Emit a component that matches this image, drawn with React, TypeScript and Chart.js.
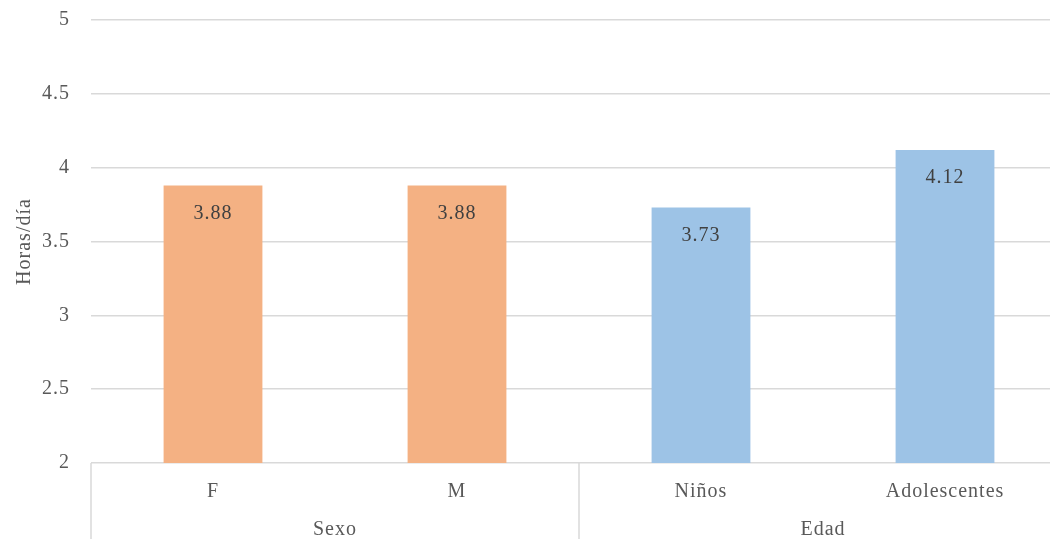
import { useEffect, useRef } from "react";
import { Chart, registerables } from "chart.js";

Chart.register(...registerables);

// Horas por día, agrupadas por sexo y por edad
const categories = ["F", "M", "Niños", "Adolescentes"];
const groups = ["Sexo", "Edad"];
const groupSizes = [2, 2];
const hours = [3.88, 3.88, 3.73, 4.12];
const barColors = ["#F4B183", "#F4B183", "#9DC3E6", "#9DC3E6"];
const yTicks = [2, 2.5, 3, 3.5, 4, 4.5, 5];

const FONT = "'Liberation Serif', 'Times New Roman', serif";
const TEXT = "#595959";
const LINE = "#d9d9d9";

// Slightly open letter spacing for every text drawn on the canvas
const letterSpacing = {
  id: "letterSpacing",
  beforeDraw(chart: any) {
    (chart.ctx as any).letterSpacing = "1px";
  },
};

// Value labels inside the top of each bar
const valueLabels = {
  id: "valueLabels",
  afterDatasetsDraw(chart: any) {
    const { ctx } = chart;
    const meta = chart.getDatasetMeta(0);
    ctx.save();
    ctx.font = `20px ${FONT}`;
    ctx.fillStyle = "#404040";
    ctx.textAlign = "center";
    ctx.textBaseline = "middle";
    meta.data.forEach((bar: any, i: number) => {
      ctx.fillText(hours[i].toFixed(2), bar.x, bar.y + 28);
    });
    ctx.restore();
  },
};

// Second level of the category axis: group names and separators
const groupAxis = {
  id: "groupAxis",
  afterDraw(chart: any) {
    const { ctx, chartArea } = chart;
    const x = chart.scales.x;
    const bottom = chart.height;
    const bounds: number[] = [chartArea.left];
    let idx = 0;
    groupSizes.forEach((n) => {
      idx += n;
      bounds.push(
        idx < categories.length
          ? (x.getPixelForTick(idx - 1) + x.getPixelForTick(idx)) / 2
          : chartArea.right
      );
    });
    ctx.save();
    ctx.strokeStyle = LINE;
    ctx.lineWidth = 1.5;
    bounds.forEach((bx) => {
      ctx.beginPath();
      ctx.moveTo(bx, chartArea.bottom);
      ctx.lineTo(bx, bottom);
      ctx.stroke();
    });
    ctx.font = `20px ${FONT}`;
    ctx.fillStyle = TEXT;
    ctx.textAlign = "center";
    ctx.textBaseline = "middle";
    let start = 0;
    groups.forEach((g, gi) => {
      const first = x.getPixelForTick(start);
      const last = x.getPixelForTick(start + groupSizes[gi] - 1);
      ctx.fillText(g, (first + last) / 2, chartArea.bottom + 67);
      start += groupSizes[gi];
    });
    ctx.restore();
  },
};

export default function App() {
  const canvasRef = useRef<HTMLCanvasElement | null>(null);

  useEffect(() => {
    if (!canvasRef.current) return;
    const chart = new Chart(canvasRef.current, {
      type: "bar",
      data: {
        labels: categories,
        datasets: [
          {
            data: hours,
            backgroundColor: barColors,
            borderWidth: 0,
            categoryPercentage: 1,
            barPercentage: 0.405,
          },
        ],
      },
      options: {
        responsive: false,
        animation: false,
        layout: { padding: { top: 12, right: 3, left: 0, bottom: 0 } },
        plugins: {
          legend: { display: false },
          tooltip: { enabled: false },
        },
        scales: {
          x: {
            grid: { display: false, drawTicks: false },
            border: { display: false },
            ticks: {
              padding: 17,
              color: TEXT,
              font: { family: FONT, size: 20 },
              maxRotation: 0,
            },
            afterFit(scale: any) {
              scale.height = 85;
            },
          },
          y: {
            min: 2,
            max: 5,
            afterBuildTicks(scale: any) {
              scale.ticks = yTicks.map((v) => ({ value: v }));
            },
            grid: { color: LINE, lineWidth: 1.5, drawTicks: false },
            border: { display: false },
            ticks: {
              padding: 21,
              color: TEXT,
              font: { family: FONT, size: 20 },
              callback: (v: any) => String(v),
            },
            title: {
              display: true,
              text: "Horas/día",
              color: TEXT,
              font: { family: FONT, size: 20 },
              padding: { top: 5, bottom: 0 },
            },
            afterFit(scale: any) {
              scale.width = 83;
              scale.paddingTop = 0;
              scale.paddingBottom = 0;
            },
          },
        },
      },
      plugins: [letterSpacing, valueLabels, groupAxis],
    });
    return () => chart.destroy();
  }, []);

  return (
    <div
      style={{
        position: "fixed",
        left: 0,
        top: 0,
        width: 1050,
        height: 539,
        overflow: "hidden",
      }}
    >
      <canvas
        ref={canvasRef}
        width={1062}
        height={540}
        style={{ position: "absolute", left: 8, top: 8, width: 1062, height: 540 }}
      />
    </div>
  );
}
